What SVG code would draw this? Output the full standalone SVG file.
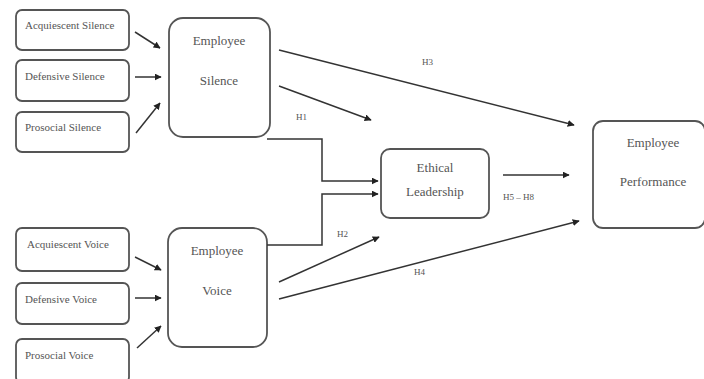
<svg xmlns="http://www.w3.org/2000/svg" width="704" height="379" viewBox="0 0 704 379">
<style>
.box{fill:#fff;stroke:#555;stroke-width:1.8}
.t{font-family:"Liberation Serif",serif;font-size:11px;fill:#555}
.tb{font-family:"Liberation Serif",serif;font-size:13px;fill:#555;text-anchor:middle}
.lab{font-family:"Liberation Serif",serif;font-size:9px;fill:#555}
.c{fill:none;stroke:#333;stroke-width:1.5}
</style>
<defs>
<marker id="ah" viewBox="0 0 10 10" refX="9" refY="5" markerWidth="7" markerHeight="7" orient="auto" markerUnits="userSpaceOnUse">
<path d="M0,0 L10,5 L0,10 z" fill="#222"/>
</marker>
</defs>
<rect width="704" height="379" fill="#fff"/>
<g id="acq-silence"><rect class="box" x="16" y="10" width="113" height="40" rx="6"/><text class="t" x="25" y="29">Acquiescent Silence</text></g>
<g id="def-silence"><rect class="box" x="16" y="60" width="113" height="41" rx="6"/><text class="t" x="25" y="80">Defensive Silence</text></g>
<g id="pro-silence"><rect class="box" x="16" y="112" width="113" height="40" rx="6"/><text class="t" x="25" y="131">Prosocial Silence</text></g>
<g id="emp-silence"><rect class="box" x="169" y="18" width="101" height="119" rx="14"/><text class="tb" x="219" y="45">Employee</text><text class="tb" x="219" y="85">Silence</text></g>
<g id="acq-voice"><rect class="box" x="16" y="228" width="113" height="43" rx="6"/><text class="t" x="27" y="248">Acquiescent Voice</text></g>
<g id="def-voice"><rect class="box" x="16" y="283" width="113" height="41" rx="6"/><text class="t" x="25" y="303">Defensive Voice</text></g>
<g id="pro-voice"><rect class="box" x="16" y="339" width="113" height="44" rx="6"/><text class="t" x="25" y="359">Prosocial Voice</text></g>
<g id="emp-voice"><rect class="box" x="168" y="228" width="99" height="119" rx="14"/><text class="tb" x="217" y="255">Employee</text><text class="tb" x="217" y="295">Voice</text></g>
<g id="ethical"><rect class="box" x="381" y="149" width="108" height="69" rx="9"/><text class="tb" x="435" y="172">Ethical</text><text class="tb" x="435" y="196">Leadership</text></g>
<g id="performance"><rect class="box" x="593" y="121" width="112" height="107" rx="10"/><text class="tb" x="653" y="147">Employee</text><text class="tb" x="653" y="186">Performance</text></g>
<g id="connectors">
<line class="c" x1="135" y1="32" x2="160" y2="48" marker-end="url(#ah)"/>
<line class="c" x1="135" y1="77" x2="161" y2="77" marker-end="url(#ah)"/>
<line class="c" x1="136" y1="133" x2="160" y2="103" marker-end="url(#ah)"/>
<line class="c" x1="135" y1="257" x2="161" y2="270" marker-end="url(#ah)"/>
<line class="c" x1="135" y1="298" x2="161" y2="298" marker-end="url(#ah)"/>
<line class="c" x1="137" y1="348" x2="161" y2="326" marker-end="url(#ah)"/>
<line class="c" x1="279" y1="50" x2="574" y2="125" marker-end="url(#ah)"/>
<line class="c" x1="279" y1="86" x2="371" y2="120" marker-end="url(#ah)"/>
<polyline class="c" points="267,139 322,139 322,181 378,181" marker-end="url(#ah)"/>
<polyline class="c" points="267,245 322,245 322,194 378,194" marker-end="url(#ah)"/>
<line class="c" x1="503" y1="175" x2="569" y2="175" marker-end="url(#ah)"/>
<line class="c" x1="279" y1="282" x2="379" y2="237" marker-end="url(#ah)"/>
<line class="c" x1="279" y1="299" x2="579" y2="221" marker-end="url(#ah)"/>
<text class="lab" x="422" y="65">H3</text>
<text class="lab" x="296" y="120">H1</text>
<text class="lab" x="337" y="237">H2</text>
<text class="lab" x="503" y="200">H5 – H8</text>
<text class="lab" x="414" y="275">H4</text>
</g>
</svg>
